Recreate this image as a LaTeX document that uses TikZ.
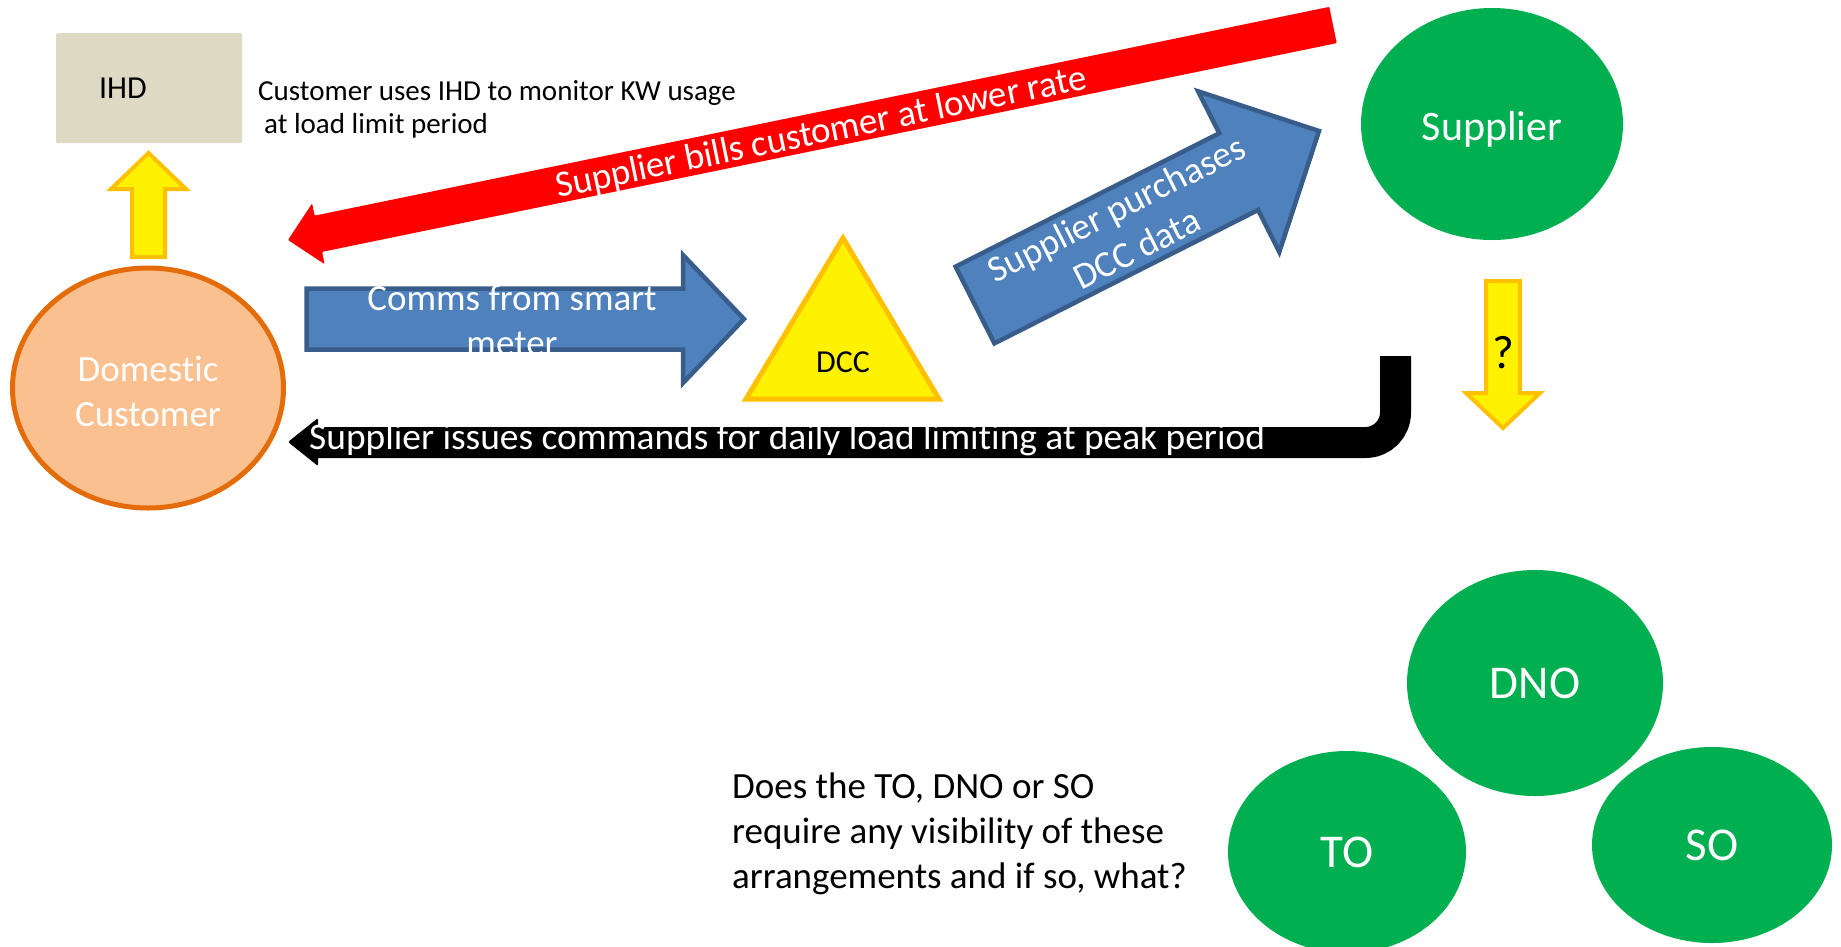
\documentclass[tikz,border=0pt]{standalone}
\usepackage{fontspec}
\setmainfont{Carlito}[Ligatures=NoCommon]
\usetikzlibrary{calc,shapes.geometric}

\definecolor{ihdtan}{HTML}{DDD9C3}
\definecolor{custfill}{HTML}{FAC090}
\definecolor{custline}{HTML}{E46C0A}
\definecolor{flowblue}{HTML}{4F81BD}
\definecolor{flowblueline}{HTML}{385D8A}
\definecolor{partygreen}{HTML}{00B050}
\definecolor{goldline}{HTML}{FFC000}

% block arrow: style, tail, tip, shaft half-width, head half-width, head length
\newcommand{\blockarrow}[6]{%
  \coordinate (ba-hb) at ($(#3)!#6!(#2)$);
  \path[#1] ($(#2)!#4!90:(#3)$) -- ($(ba-hb)!#4!90:(#3)$) -- ($(ba-hb)!#5!90:(#3)$)
    -- (#3) -- ($(ba-hb)!#5!-90:(#3)$) -- ($(ba-hb)!#4!-90:(#3)$)
    -- ($(#2)!#4!-90:(#3)$) -- cycle;
}

\begin{document}
\begin{tikzpicture}[x=1pt,y=-1pt,
  every node/.style={inner sep=0pt},
  bigtext/.style={font=\fontsize{37}{45}\selectfont},
  smalltext/.style={font=\fontsize{29}{33}\selectfont},
  ihdbox/.style={fill=ihdtan, rounded corners=1.5pt, minimum height=110pt,
    text width=100pt, inner xsep=43pt, align=left, font=\fontsize{32}{38}\selectfont},
  party/.style={ellipse, fill=partygreen, text=white},
  yellowarrow/.style={fill=yellow, draw=goldline, line width=4pt},
  bluearrow/.style={fill=flowblue, draw=flowblueline, line width=4.5pt},
  redarrow/.style={fill=red, rounded corners=1pt},
  onarrow/.style={bigtext, text=white}]
\useasboundingbox (0,0) rectangle (1841,946);
\clip (0,0) rectangle (1841,946);

% ---- customer side ----
\node[ihdbox] (ihd) at (149,88) {\raisebox{-2pt}{IHD}};
\node[smalltext, align=left, anchor=west] (usage) at (258,109)
  {Customer uses IHD to monitor KW usage\\\hspace*{6pt}at load limit period};
\node[ellipse, draw=custline, line width=5pt, fill=custfill,
  minimum width=271pt, minimum height=240pt] (cust) at (148,388) {};
\node[bigtext, text=white, align=center] (cust-label) at (148,391) {Domestic\\Customer};

% ---- DCC ----
\path[fill=yellow, draw=goldline, line width=5pt]
  (843,238) -- (939,399) -- (746,399) -- cycle;
\node[font=\fontsize{32}{38}\selectfont] (dcc) at (843,362) {DCC};

% ---- parties ----
\node[party, minimum width=262pt, minimum height=232pt] (supplier) at (1492,124) {};
\node[text=white, font=\fontsize{42}{50}\selectfont] (supplier-label) at (1492,129) {Supplier};
\node[party, minimum width=256pt, minimum height=226pt,
  font=\fontsize{47}{56}\selectfont] (dno) at (1535,683) {DNO};
\node[party, minimum width=238pt, minimum height=202pt,
  font=\fontsize{47}{56}\selectfont] (to) at (1347,852) {TO};
\node[party, minimum width=240pt, minimum height=196pt,
  font=\fontsize{47}{56}\selectfont] (so) at (1712,845) {SO};

\node[bigtext, align=left, anchor=west] (question) at (732,834)
  {Does the TO, DNO or SO\\require any visibility of these\\arrangements and if so, what?};

% ---- arrow end points ----
\coordinate (ihdup-from) at (148.5,257);
\coordinate (ihdup-to)   at (148.5,153);
\coordinate (comms-from) at (306.5,319);
\coordinate (comms-to)   at (744,319);
\coordinate (buy-from)   at (975,305);
\coordinate (buy-to)     at (1319,131);
\coordinate (bill-from)  at (1333,25);
\coordinate (bill-to)    at (288,240);
\coordinate (ask-from)   at (1503,281);
\coordinate (ask-to)     at (1503,428);
\coordinate (cmd-from)   at (1395.5,356);
\coordinate (cmd-hb)     at (317,442.5);
\coordinate (cmd-to)     at (288,442);

% ---- arrows ----
\blockarrow{yellowarrow}{ihdup-from}{ihdup-to}{16.5pt}{37.5pt}{36pt}
\blockarrow{yellowarrow}{ask-from}{ask-to}{17pt}{37pt}{35pt}
\blockarrow{bluearrow}{comms-from}{comms-to}{30.5pt}{64pt}{61pt}
\blockarrow{bluearrow}{buy-from}{buy-to}{43pt}{90pt}{90pt}
\blockarrow{redarrow}{bill-from}{bill-to}{18.5pt}{31pt}{31pt}

\draw[line width=31pt, rounded corners=30pt] (cmd-from) |- (cmd-hb);
\fill[rounded corners=2pt] (cmd-to) -- (318,418) -- (318,466) -- cycle;

% ---- arrow labels ----
\node[onarrow, align=center] (comms-label) at (512,320) {Comms from smart\\meter};
\path (buy-from) -- node[onarrow, sloped, pos=0.44, align=center] (buy-label)
  {Supplier purchases\\DCC data} (buy-to);
\path (bill-to) -- node[onarrow, sloped, pos=0.51, yshift=-3pt] (bill-label)
  {Supplier bills customer at lower rate} (bill-from);
\node[font=\fontsize{37.4}{45}\selectfont, text=white, anchor=west] (cmd-label) at (309,440)
  {Supplier issues commands for daily load limiting at peak period};
\node[font=\fontsize{47}{56}\selectfont] (ask-label) at (1503,353) {?};
\end{tikzpicture}
\end{document}
